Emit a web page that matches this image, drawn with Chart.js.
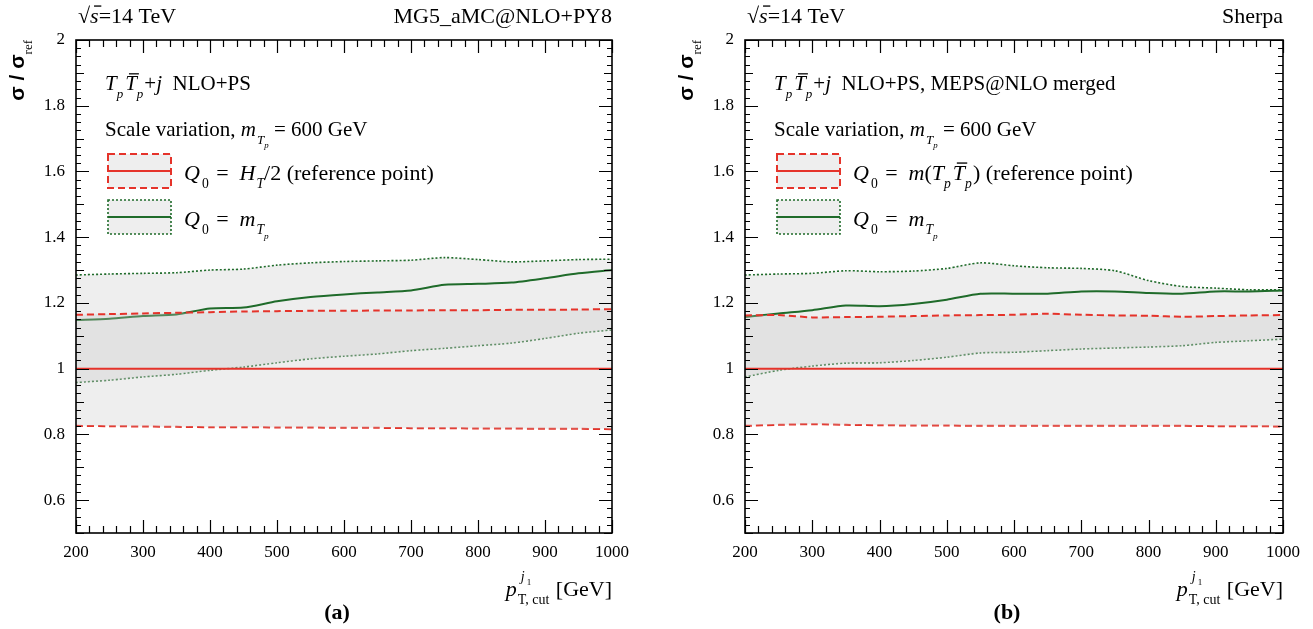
<!DOCTYPE html>
<html>
<head>
<meta charset="utf-8">
<script src="https://cdn.jsdelivr.net/npm/chart.js@4.4.1/dist/chart.umd.min.js"></script>
<style>
  html, body { margin: 0; padding: 0; background: #fff; overflow: hidden; }
  #wrap { position: relative; width: 1313px; height: 629px; }
  canvas { position: absolute; top: 0; }
  #ca { left: 0; }
  #cb { left: 656px; }
</style>
</head>
<body>
<div id="wrap">
  <canvas id="ca" width="656" height="629"></canvas>
  <canvas id="cb" width="657" height="629"></canvas>
</div>
<script>
// pT cut values (GeV)
const ptCut = [200, 250, 300, 350, 400, 450, 500, 550, 600, 650, 700, 750, 800, 850, 900, 950, 1000]
const xTickValues = [200, 300, 400, 500, 600, 700, 800, 900, 1000]
const yTickValues = [0.6, 0.8, 1, 1.2, 1.4, 1.6, 1.8, 2]

// (a) MG5_aMC@NLO+PY8
const refMidA = [1, 1, 1, 1, 1, 1, 1, 1, 1, 1, 1, 1, 1, 1, 1, 1, 1]
const refUpA = [1.164, 1.166, 1.168, 1.170, 1.172, 1.174, 1.175, 1.176, 1.176, 1.177, 1.177, 1.178, 1.178, 1.179, 1.179, 1.180, 1.181]
const refLoA = [0.826, 0.825, 0.824, 0.823, 0.822, 0.822, 0.821, 0.821, 0.820, 0.820, 0.819, 0.819, 0.818, 0.818, 0.817, 0.817, 0.816]
const mtMidA = [1.148, 1.152, 1.160, 1.165, 1.183, 1.186, 1.205, 1.218, 1.226, 1.232, 1.238, 1.255, 1.258, 1.262, 1.275, 1.290, 1.300]
const mtUpA = [1.285, 1.288, 1.290, 1.292, 1.300, 1.303, 1.315, 1.322, 1.326, 1.328, 1.330, 1.338, 1.332, 1.325, 1.328, 1.332, 1.333]
const mtLoA = [0.958, 0.965, 0.975, 0.983, 0.995, 1.005, 1.018, 1.030, 1.038, 1.045, 1.055, 1.062, 1.070, 1.078, 1.092, 1.108, 1.118]

// (b) Sherpa
const refMidB = [1, 1, 1, 1, 1, 1, 1, 1, 1, 1, 1, 1, 1, 1, 1, 1, 1]
const refUpB = [1.162, 1.163, 1.156, 1.157, 1.158, 1.160, 1.162, 1.163, 1.164, 1.167, 1.164, 1.162, 1.161, 1.158, 1.160, 1.162, 1.163]
const refLoB = [0.826, 0.829, 0.831, 0.829, 0.828, 0.827, 0.827, 0.826, 0.826, 0.826, 0.826, 0.826, 0.826, 0.826, 0.825, 0.825, 0.824]
const mtMidB = [1.157, 1.168, 1.178, 1.192, 1.190, 1.197, 1.210, 1.228, 1.228, 1.228, 1.235, 1.235, 1.230, 1.228, 1.235, 1.235, 1.238]
const mtUpB = [1.285, 1.288, 1.290, 1.298, 1.295, 1.297, 1.305, 1.322, 1.313, 1.307, 1.305, 1.298, 1.268, 1.250, 1.245, 1.240, 1.240]
const mtLoB = [0.975, 0.995, 1.008, 1.017, 1.018, 1.025, 1.035, 1.048, 1.050, 1.055, 1.060, 1.063, 1.066, 1.070, 1.080, 1.085, 1.090]

const RED = "#e5332a"
const GREEN = "#1f6b2a"
const BAND = "rgba(198,200,200,0.3)"
const SERIF = '"Liberation Serif", "DejaVu Serif", serif'
const SANS = '"Liberation Sans", "DejaVu Sans", sans-serif'

function font(size, it, bold, fam) {
  return (it ? "italic " : "") + (bold ? "bold " : "") + size + "px " + (fam || SERIF)
}

// draws a run of text pieces, sub:1 = subscript, sub:2 = sub-subscript
function rich(ctx, parts, x, y, size, draw) {
  let cx = x
  for (const p of parts) {
    let s = size, dy = 0
    if (p.sub === 1) { s = size * 0.62; dy = size * 0.38 }
    if (p.sub === 2) { s = size * 0.42; dy = size * 0.58 }
    ctx.font = font(s, p.i, p.b, p.fam)
    const w = ctx.measureText(p.t).width
    if (draw) {
      ctx.fillText(p.t, cx, y + dy)
      if (p.bar) ctx.fillRect(cx + s * 0.18, y + dy - s * 0.8, w * 0.85, Math.max(1.2, s * 0.06))
    }
    cx += w + (p.dx || 0)
  }
  return cx - x
}

const tpPair = [
  { t: "T", i: true }, { t: "p", i: true, sub: 1, dx: 2 },
  { t: "T", i: true, bar: true }, { t: "p", i: true, sub: 1, dx: 1 }
]
const mTp = [{ t: "m", i: true, dx: 1 }, { t: "T", i: true, sub: 1 }, { t: "p", i: true, sub: 2 }]
const q0 = [{ t: "Q", i: true, dx: 2 }, { t: "0", sub: 1, dx: 2 }, { t: " =  " }]

const panelText = {
  id: "panelText",
  afterDraw(chart, args, o) {
    const { ctx, chartArea: a } = chart
    const xs = chart.scales.x, ys = chart.scales.y
    ctx.save()
    ctx.fillStyle = "#000"
    ctx.strokeStyle = "#000"
    ctx.textBaseline = "alphabetic"

    // inward ticks on all four sides
    ctx.lineWidth = 1.2
    ctx.beginPath()
    for (let v = xs.min; v <= xs.max; v += 20) {
      const px = Math.round(xs.getPixelForValue(v)) + 0.5
      const L = v % 100 === 0 ? 13 : 7
      ctx.moveTo(px, a.bottom); ctx.lineTo(px, a.bottom - L)
      ctx.moveTo(px, a.top); ctx.lineTo(px, a.top + L)
    }
    for (let k = 0; k <= 60; k++) {
      const py = Math.round(ys.getPixelForValue(0.5 + k * 0.025)) + 0.5
      const L = k % 8 === 4 ? 13 : k % 4 === 0 ? 8 : 5
      ctx.moveTo(a.left, py); ctx.lineTo(a.left + L, py)
      ctx.moveTo(a.right, py); ctx.lineTo(a.right - L, py)
    }
    ctx.stroke()
    ctx.lineWidth = 1.6
    ctx.strokeRect(a.left, a.top, a.right - a.left, a.bottom - a.top)

    // header
    rich(ctx, [{ t: "\u221A" }, { t: "s", i: true, bar: true }, { t: "=14 TeV" }], a.left + 2, 23, 22, true)
    ctx.font = font(22)
    ctx.textAlign = "right"
    ctx.fillText(o.generator, a.right, 23)
    ctx.textAlign = "left"

    const tx = a.left + 29
    rich(ctx, tpPair.concat([{ t: "+" }, { t: "j", i: true }, { t: o.process }]), tx, 90, 21, true)
    rich(ctx, [{ t: "Scale variation, " }].concat(mTp, [{ t: " = 600 GeV" }]), tx, 136, 21, true)

    // legend
    const bx = a.left + 32, bw = 63, bh = 34
    const boxes = [
      { y: 154, color: RED, dash: [7, 4], w: 2, label: o.refLabel },
      { y: 200, color: GREEN, dash: [2, 2], w: 1.6, label: q0.concat(mTp) }
    ]
    for (const b of boxes) {
      ctx.fillStyle = "#eeeeee"
      ctx.fillRect(bx, b.y, bw, bh)
      ctx.strokeStyle = b.color
      ctx.lineWidth = b.w
      ctx.setLineDash(b.dash)
      ctx.strokeRect(bx, b.y, bw, bh)
      ctx.setLineDash([])
      ctx.lineWidth = 2
      ctx.beginPath()
      ctx.moveTo(bx, b.y + bh / 2); ctx.lineTo(bx + bw, b.y + bh / 2)
      ctx.stroke()
      ctx.fillStyle = "#000"
      rich(ctx, b.label, a.left + 108, b.y + 26, 22, true)
    }

    // y title
    ctx.save()
    ctx.translate(a.left - 52, a.top)
    ctx.rotate(-Math.PI / 2)
    const yt = [{ t: "\u03C3", b: true, fam: SANS }, { t: " / ", b: true, fam: SANS }, { t: "\u03C3", b: true, fam: SANS }, { t: "ref", sub: 1 }]
    const yw = rich(ctx, yt, 0, 0, 21, false)
    rich(ctx, yt, -yw, 0, 21, true)
    ctx.restore()

    // x title
    const by = 596
    ctx.font = font(22, true)
    const pw = ctx.measureText("p").width
    ctx.font = font(14)
    const subW = ctx.measureText("T, cut").width
    ctx.font = font(22)
    const unit = " [GeV]"
    const uw = ctx.measureText(unit).width
    let x0 = a.right - uw - subW - pw - 2
    ctx.font = font(22, true)
    ctx.fillText("p", x0, by)
    x0 += pw + 1
    ctx.font = font(14)
    ctx.fillText("T, cut", x0, by + 8)
    ctx.font = font(14, true)
    ctx.fillText("j", x0 + 3, by - 15)
    ctx.font = font(9)
    ctx.fillText("1", x0 + 9, by - 11)
    ctx.font = font(22)
    ctx.fillText(unit, x0 + subW + 1, by)

    // panel label
    ctx.font = font(22, false, true)
    ctx.textAlign = "center"
    ctx.fillText(o.tag, (a.left + a.right) / 2 - 7, 619)
    ctx.restore()
  }
}

function pts(ys) {
  return ptCut.map((x, i) => ({ x: x, y: ys[i] }))
}

function makePanel(canvas, d, opt) {
  const line = (data, color, dash, width, fill) => ({
    data: pts(data),
    borderColor: color,
    borderWidth: width,
    borderDash: dash,
    backgroundColor: BAND,
    fill: fill,
    pointRadius: 0,
    tension: 0.25,
  })

  const config = {
    type: "line",
    data: {
      datasets: [
        line(d.refMid, RED, [], 2, false),
        line(d.refUp, RED, [7, 4], 2, "+1"),
        line(d.refLo, RED, [7, 4], 2, false),
        line(d.mtMid, GREEN, [], 2, false),
        line(d.mtUp, GREEN, [2, 2], 1.6, "+1"),
        line(d.mtLo, GREEN, [2, 2], 1.6, false),
      ],
    },
    options: {
      responsive: false,
      animation: false,
      layout: { padding: { left: 0, right: opt.padRight, top: 40, bottom: 56 } },
      scales: {
        x: {
          type: "linear",
          min: 200,
          max: 1000,
          grid: { display: false, drawTicks: false },
          border: { display: false },
          afterBuildTicks: (s) => { s.ticks = xTickValues.map((v) => ({ value: v })) },
          afterFit: (s) => { s.height = 40 },
          ticks: {
            color: "#000",
            padding: 9,
            maxRotation: 0,
            font: { family: SERIF, size: 17 },
            callback: (v) => String(v),
          },
        },
        y: {
          min: 0.5,
          max: 2,
          grid: { display: false, drawTicks: false },
          border: { display: false },
          afterBuildTicks: (s) => { s.ticks = yTickValues.map((v) => ({ value: v })) },
          afterFit: (s) => { s.width = opt.left },
          ticks: {
            color: "#000",
            padding: 11,
            font: { family: SERIF, size: 17 },
            callback: (v) => String(v),
          },
        },
      },
      plugins: {
        legend: { display: false },
        tooltip: { enabled: false },
        panelText: opt.text,
      },
    },
    plugins: [panelText],
  }

  return new Chart(canvas, config)
}

makePanel(document.getElementById("ca"),
  { refMid: refMidA, refUp: refUpA, refLo: refLoA, mtMid: mtMidA, mtUp: mtUpA, mtLo: mtLoA },
  {
    left: 76, padRight: 44,
    text: {
      generator: "MG5_aMC@NLO+PY8",
      process: "  NLO+PS",
      refLabel: q0.concat([{ t: "H", i: true, dx: 1 }, { t: "T", i: true, sub: 1 }, { t: "/2 (reference point)" }]),
      tag: "(a)",
    },
  })

makePanel(document.getElementById("cb"),
  { refMid: refMidB, refUp: refUpB, refLo: refLoB, mtMid: mtMidB, mtUp: mtUpB, mtLo: mtLoB },
  {
    left: 89, padRight: 30,
    text: {
      generator: "Sherpa",
      process: "  NLO+PS, MEPS@NLO merged",
      refLabel: q0.concat([{ t: "m", i: true }, { t: "(" }], tpPair, [{ t: ") (reference point)" }]),
      tag: "(b)",
    },
  })
</script>
</body>
</html>
